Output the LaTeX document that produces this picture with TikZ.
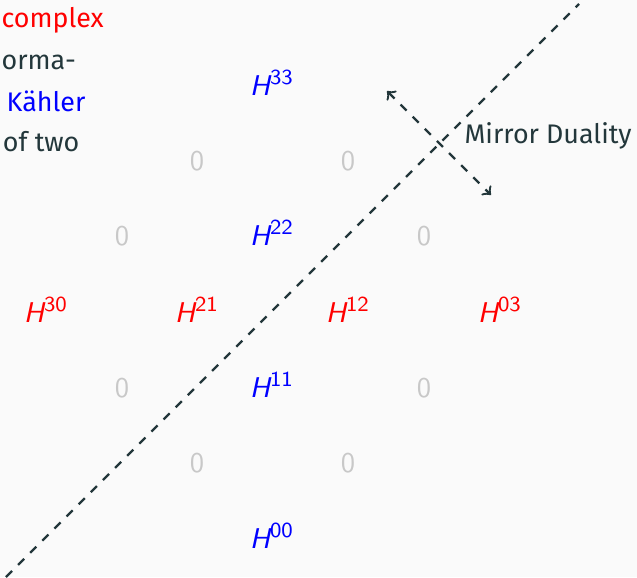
\documentclass[tikz,border=0pt]{standalone}
\usepackage{fontspec}
\setmainfont{Fira Sans}
\usetikzlibrary{positioning}
\definecolor{slidebg}{HTML}{FAFAFA}
\definecolor{slidetext}{HTML}{23373B}
\definecolor{zerogray}{HTML}{C8C8C8}
\newcommand{\lmsf}{\fontfamily{lmss}\selectfont}
\newcommand{\hodge}[1]{{\lmsf\slshape H}\textsuperscript{\lmsf\fontsize{7.5pt}{9pt}\selectfont #1}}
\tikzset{
    hodgered/.style={text=red, inner sep=0pt, anchor=base},
    hodgeblue/.style={text=blue, inner sep=0pt, anchor=base},
    zero/.style={text=zerogray, inner sep=0pt, anchor=base, font=\lmsf},
    slide/.style={text=slidetext, inner sep=0pt, anchor=base east, font=\fontsize{9.4pt}{11pt}\selectfont},
    mirror/.style={draw=slidetext, thick, dashed}
}

\begin{document}
\begin{tikzpicture}[x=0.35pt, y=-0.35pt]
    \fill[slidebg] (0,0) rectangle (637,577);
    \useasboundingbox (0,0) rectangle (637,577);
    % slide text cut at the left
    \node[slide, text=red, anchor=base west] (txtcomplex) at (1,27) {complex};
    \node[slide, anchor=base west] (txtforma) at (1,69) {orma-};
    \node[slide, text=blue] (txtkahler) at (86,111) {Kähler};
    \node[slide] (txttwo) at (80,151) {of two};
    % hodge diamond
    \node[hodgeblue] (h33) at (272,95) {\hodge{33}};
    \node[zero] (z1a) at (197,170) {0};
    \node[zero] (z1b) at (348,170) {0};
    \node[zero] (z2a) at (122,245) {0};
    \node[hodgeblue] (h22) at (272,245) {\hodge{22}};
    \node[zero] (z2b) at (424,245) {0};
    \node[hodgered] (h30) at (46,322) {\hodge{30}};
    \node[hodgered] (h21) at (197,322) {\hodge{21}};
    \node[hodgered] (h12) at (348,322) {\hodge{12}};
    \node[hodgered] (h03) at (500,322) {\hodge{03}};
    \node[zero] (z4a) at (122,397) {0};
    \node[hodgeblue] (h11) at (272,397) {\hodge{11}};
    \node[zero] (z4b) at (424,397) {0};
    \node[zero] (z5a) at (197,472) {0};
    \node[zero] (z5b) at (348,472) {0};
    \node[hodgeblue] (h00) at (272,548) {\hodge{00}};
    % mirror line
    \coordinate (mirrorlow) at (6,577);
    \coordinate (mirrorhigh) at (579,4);
    \draw[mirror] (mirrorlow) -- (mirrorhigh);
    \coordinate (dualA) at (387,91);
    \coordinate (dualB) at (491,195);
    \draw[mirror, <->] (dualA) -- (dualB);
    \node[slide, anchor=base west] (duality) at (464,143) {Mirror Duality};
\end{tikzpicture}
\end{document}
